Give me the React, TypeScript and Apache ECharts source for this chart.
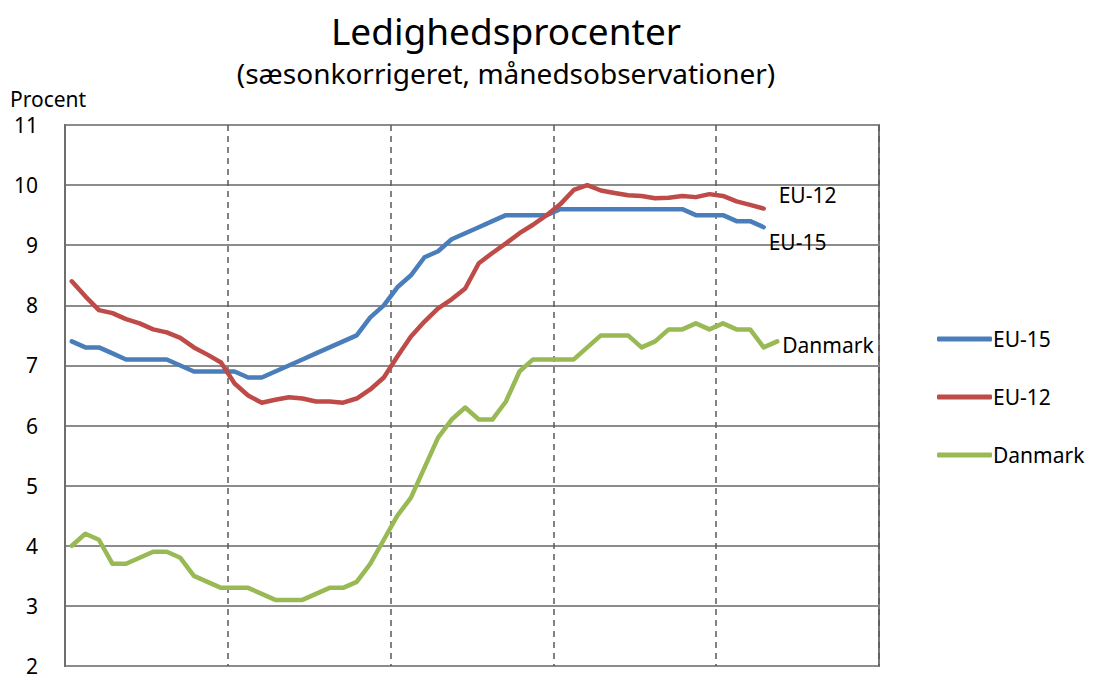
import React, { useEffect, useRef } from "react";
import * as echarts from "echarts";

const months: string[] = Array.from({ length: 60 }, (_, i) => `M${i + 1}`);

const eu15: (number | null)[] = [
  7.4, 7.3, 7.3, 7.2, 7.1, 7.1, 7.1, 7.1, 7.0, 6.9, 6.9, 6.9,
  6.9, 6.8, 6.8, 6.9, 7.0, 7.1, 7.2, 7.3, 7.4, 7.5, 7.8, 8.0,
  8.3, 8.5, 8.8, 8.9, 9.1, 9.2, 9.3, 9.4, 9.5, 9.5, 9.5, 9.5,
  9.6, 9.6, 9.6, 9.6, 9.6, 9.6, 9.6, 9.6, 9.6, 9.6, 9.5, 9.5,
  9.5, 9.4, 9.4, 9.3,
];

const eu12: (number | null)[] = [
  8.4, 8.15, 7.92, 7.87, 7.77, 7.7, 7.6, 7.55, 7.46, 7.3, 7.18, 7.05,
  6.7, 6.5, 6.38, 6.43, 6.47, 6.45, 6.4, 6.4, 6.38, 6.45, 6.6, 6.8,
  7.15, 7.48, 7.73, 7.95, 8.1, 8.28, 8.7, 8.87, 9.03, 9.2, 9.34, 9.5,
  9.68, 9.92, 10.0, 9.91, 9.87, 9.83, 9.82, 9.78, 9.79, 9.82, 9.8, 9.85,
  9.82, 9.73, 9.67, 9.61,
];

const danmark: (number | null)[] = [
  4.0, 4.2, 4.1, 3.7, 3.7, 3.8, 3.9, 3.9, 3.8, 3.5, 3.4, 3.3,
  3.3, 3.3, 3.2, 3.1, 3.1, 3.1, 3.2, 3.3, 3.3, 3.4, 3.7, 4.1,
  4.5, 4.8, 5.3, 5.8, 6.1, 6.3, 6.1, 6.1, 6.4, 6.9, 7.1, 7.1,
  7.1, 7.1, 7.3, 7.5, 7.5, 7.5, 7.3, 7.4, 7.6, 7.6, 7.7, 7.6,
  7.7, 7.6, 7.6, 7.3, 7.4,
];

const seriesNames = ["EU-15", "EU-12", "Danmark"];
const colors = ["#4A7EBB", "#BE4B48", "#98B954"];

const FONT = "'Noto Sans', sans-serif";

export default function App() {
  const ref = useRef<HTMLDivElement>(null);
  useEffect(() => {
    if (!ref.current) return;
    const chart = echarts.init(ref.current, null, { renderer: "svg" });
    const mk = (name: string, data: (number | null)[], color: string, offset: number[]) => ({
      name,
      type: "line",
      data,
      symbol: "none",
      showSymbol: false,
      lineStyle: { color, width: 4.5, cap: "round", join: "round" },
      itemStyle: { color },
      z: 3,
      endLabel: {
        show: true,
        formatter: "{a}",
        color: "#000",
        fontFamily: FONT,
        fontSize: 21,
        offset,
      },
    });
    chart.setOption({
      animation: false,
      backgroundColor: "#fff",
      textStyle: { fontFamily: FONT },
      title: [
        {
          text: "Ledighedsprocenter",
          left: 501,
          textAlign: "center",
          top: 7,
          textStyle: { fontSize: 37, fontWeight: "normal", color: "#000", fontFamily: FONT },
        },
        {
          text: "(sæsonkorrigeret, månedsobservationer)",
          left: 501,
          textAlign: "center",
          top: 54,
          textStyle: { fontSize: 28, fontWeight: "normal", color: "#000", fontFamily: FONT },
        },
        {
          text: "Procent",
          left: 10,
          top: 88,
          padding: 0,
          textStyle: { fontSize: 21, lineHeight: 22, fontWeight: "normal", color: "#000", fontFamily: FONT },
        },
      ],
      legend: {
        orient: "vertical",
        left: 932,
        top: 322,
        icon: "roundRect",
        itemWidth: 55,
        itemHeight: 5,
        itemGap: 34,
        data: seriesNames,
        textStyle: { fontSize: 21, lineHeight: 24, color: "#000", fontFamily: FONT, padding: [0, 0, 0, -4] },
      },
      grid: {
        left: 65,
        top: 125,
        right: 217,
        bottom: 12,
        show: true,
        borderColor: "#7a7a7a",
        borderWidth: 2,
        containLabel: false,
      },
      xAxis: {
        type: "category",
        data: months,
        boundaryGap: true,
        axisLabel: { show: false },
        axisTick: { show: false },
        axisLine: { show: false },
        splitLine: {
          show: true,
          interval: 11,
          lineStyle: { color: "#595959", width: 1.5, type: [6, 5] },
        },
      },
      yAxis: {
        type: "value",
        min: 2,
        max: 11,
        interval: 1,
        axisLine: { show: true, lineStyle: { color: "#6e6e6e", width: 2 } },
        axisTick: { show: false },
        axisLabel: { color: "#000", fontSize: 21, lineHeight: 20, margin: 27, fontFamily: FONT },
        splitLine: { show: true, lineStyle: { color: "#8c8c8c", width: 2 } },
      },
      series: [
        mk("EU-15", eu15, colors[0], [-3, 15]),
        mk("EU-12", eu12, colors[1], [7, -14]),
        mk("Danmark", danmark, colors[2], [-3, 4]),
      ],
    });
    return () => chart.dispose();
  }, []);
  return (
    <div
      ref={ref}
      style={{ position: "absolute", left: 0, top: 0, width: 1096, height: 678 }}
    />
  );
}
